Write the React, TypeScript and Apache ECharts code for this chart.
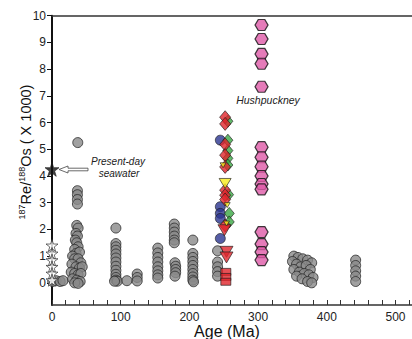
import React, { useEffect, useRef } from "react";
import * as echarts from "echarts";

// ---------- data (age in Ma, 187Re/188Os x1000) ----------
const grayCircles: [number, number][] = [
  [1, 0.05], [6, 0.08], [12, 0.05], [16, 0.08],
  [37.5, 5.25], [37, 3.45], [37, 3.3], [37, 3.12], [37, 2.95],
  [36, 2.15], [38, 2.05], [35, 1.85], [37, 1.75], [34, 1.6], [36, 1.5], [38, 1.35],
  [33, 1.25], [35, 1.1], [40, 1.15], [30, 1.0], [33, 0.9], [38, 0.9], [42, 0.75],
  [29, 0.7], [35, 0.6], [40, 0.55], [44, 0.6], [28, 0.4], [33, 0.35], [38, 0.3],
  [42, 0.35], [30, 0.15], [36, 0.1], [41, 0.05], [33, 0.0], [38, -0.02],
  [93, 2.05], [93, 1.47], [93, 1.35], [93, 1.22], [93, 1.08], [93, 0.93], [93, 0.78],
  [93, 0.62], [93, 0.47], [93, 0.32], [93, 0.2], [93, 0.1], [95, 0.06], [91, 0.06],
  [109, 0.08], [124, 0.33], [124, 0.2], [124, 0.07],
  [154, 1.3], [154, 1.12], [154, 0.95], [154, 0.78], [154, 0.6], [154, 0.45], [154, 0.3], [154, 0.18],
  [178, 2.2], [178, 2.05], [178, 1.9], [178, 1.75], [178, 1.6], [178, 1.5],
  [179, 0.75], [180, 0.62], [180, 0.5], [180, 0.38], [179, 0.25],
  [205, 1.6], [205, 1.1], [205, 0.95], [205, 0.8], [205, 0.65], [205, 0.5], [205, 0.35],
  [205, 0.22], [205, 0.1], [206, 0.04],
  [241, 1.2], [241, 0.78], [241, 0.6], [241, 0.42], [241, 0.25],
  [352, 1.0], [358, 0.95], [365, 0.9], [372, 0.85], [378, 0.75], [350, 0.8], [356, 0.7],
  [362, 0.6], [370, 0.65], [376, 0.5], [352, 0.5], [360, 0.4], [367, 0.35], [374, 0.3],
  [380, 0.2], [356, 0.25], [364, 0.15], [372, 0.05], [378, 0.0],
  [442, 0.85], [442, 0.65], [442, 0.45], [442, 0.25], [442, 0.05],
];
const whiteStars: [number, number][] = [
  [0, 1.4], [0, 1.1], [0, 0.85], [0, 0.6], [0, 0.35], [0, 0.1],
];
const seawater: [number, number][] = [[0, 4.25]];
const redDiamonds: [number, number][] = [
  [252, 6.2], [252, 5.95], [252, 5.18], [252, 4.78], [252, 4.34], [252, 3.47],
  [252, 3.28], [252, 3.12], [252, 2.15],
];
const greenDiamonds: [number, number][] = [
  [256, 6.05], [256, 5.34], [256, 4.95], [256, 4.66], [256, 4.41], [257, 3.3],
  [258, 2.6], [258, 2.28],
];
const blueCircles: [number, number][] = [
  [245, 5.34], [245, 2.85], [245, 2.6], [245, 2.41], [245, 1.66],
];
const yellowBig: [number, number][] = [[252, 3.72]];
const yellowSmall: [number, number][] = [[249, 4.4], [255, 2.91], [254, 2.22]];
const redTriangles: [number, number][] = [[251, 1.97], [254, 1.16], [254, 0.95]];
const redSquares: [number, number][] = [[253, 0.41], [253, 0.22], [253, 0.04]];
const hushpuckney: [number, number][] = [
  [305, 9.65], [305, 9.13], [305, 8.57], [305, 8.2], [305, 7.34],
  [305, 5.08], [305, 4.7], [305, 4.35], [305, 4.0], [305, 3.7], [305, 3.5],
  [305, 1.9], [305, 1.45], [305, 1.15], [305, 0.85],
];
const yTicks = [0, 1, 2, 3, 4, 5, 6, 7, 8, 9, 10];
const xLabels = [0, 100, 200, 300, 400, 500];
const xMinorTicks = [0, 20, 40, 60, 80, 100, 120, 140, 160, 180, 200, 220, 240, 260, 280, 300, 320, 340, 360, 380, 400, 420, 440, 460, 480, 500, 520];

const STAR = "path://M50,0 L61,35 L98,35 L68,57 L79,91 L50,70 L21,91 L32,57 L2,35 L39,35 Z";
const HEX = "path://M25,0 L75,0 L100,43 L75,86 L25,86 L0,43 Z";
const TRI_DOWN = "path://M0,0 L100,0 L50,87 Z";
const FONT = "Liberation Sans";

export default function App() {
  const ref = useRef<HTMLDivElement>(null);
  useEffect(() => {
    if (!ref.current) return;
    const chart = echarts.init(ref.current, null, { renderer: "svg" });
    const edge = { borderColor: "#1a1a1a", borderWidth: 0.8 };
    const sc = (name: string, data: [number, number][], symbol: string, size: any, color: string, z = 2, extra: any = {}) => ({
      name,
      type: "scatter",
      data,
      symbol,
      symbolSize: size,
      z,
      itemStyle: { color, ...edge, ...extra },
      emphasis: { disabled: true },
    });
    chart.setOption({
      animation: false,
      grid: { left: 52, right: 0, top: 15.7, bottom: 34 },
      xAxis: [
        {
          type: "value",
          min: 0,
          max: 524,
          position: "bottom",
          axisLine: { show: true, onZero: false, lineStyle: { color: "#333", width: 1.5 } },
          axisTick: { show: true, inside: true, length: 5, customValues: xMinorTicks, lineStyle: { color: "#333", width: 1 } },
          axisLabel: { customValues: xLabels, fontSize: 12, color: "#222", margin: 6, fontFamily: FONT },
          splitLine: { show: false },
        },
        {
          type: "value",
          min: 0,
          max: 524,
          position: "top",
          axisLine: { show: true, onZero: false, lineStyle: { color: "#333", width: 1.5 } },
          axisTick: { show: false },
          axisLabel: { show: false },
          splitLine: { show: false },
        },
      ],
      yAxis: {
        type: "value",
        min: -0.83,
        max: 10,
        axisLine: { show: true, onZero: false, lineStyle: { color: "#111", width: 2 } },
        axisTick: { show: true, length: 5, customValues: yTicks, lineStyle: { color: "#111", width: 1 } },
        axisLabel: { customValues: yTicks, fontSize: 12, color: "#222", margin: 6, fontFamily: FONT },
        splitLine: { show: false },
      },
      series: [
        sc("gray", grayCircles, "circle", 10, "#8a8a8a", 2, { borderColor: "#2a2a2a", borderWidth: 1 }),
        sc("stars", whiteStars, STAR, 12, "#ffffff", 3, { borderColor: "#333", borderWidth: 0.9 }),
        sc("seawater", seawater, STAR, 14, "#111111", 3),
        sc("blue", blueCircles, "circle", 10, "#2b3590", 4),
        sc("green", greenDiamonds, "diamond", [10, 12], "#3aa843", 4),
        sc("redDiamonds", redDiamonds, "diamond", [11, 13], "#e0242b", 5),
        sc("yellowBig", yellowBig, TRI_DOWN, [12, 10], "#f7ec1c", 5),
        sc("yellowSmall", yellowSmall, TRI_DOWN, [6, 5], "#f7ec1c", 6),
        sc("redTri", redTriangles, TRI_DOWN, [13, 11], "#e0242b", 5),
        sc("redSq", redSquares, "rect", [10, 7], "#e0242b", 5),
        sc("hush", hushpuckney, HEX, [13, 11], "#de5aa8", 6, { borderColor: "#111", borderWidth: 1.2 }),
      ],
      graphic: [
        {
          type: "text",
          x: 25,
          y: 152,
          rotation: Math.PI / 2,
          style: {
            text: "{sup|187}{main|Re/}{sup|188}{main|Os ( X 1000)}",
            align: "center",
            verticalAlign: "middle",
            fill: "#111",
            rich: {
              sup: { fontSize: 9, fontFamily: FONT, verticalAlign: "top", fill: "#111", lineHeight: 16 },
              main: { fontSize: 14.5, fontFamily: FONT, verticalAlign: "bottom", fill: "#111", lineHeight: 16 },
            },
          },
        },
        {
          type: "text",
          x: 227,
          y: 331,
          style: { text: "Age (Ma)", fontSize: 16, fontFamily: FONT, fill: "#111", align: "center", verticalAlign: "middle" },
        },
        {
          type: "text",
          x: 118,
          y: 161.5,
          style: {
            text: "Present-day",
            fontSize: 10,
            fontStyle: "italic",
            fontFamily: FONT,
            fill: "#222",
            align: "center",
            verticalAlign: "middle",
          },
        },
        {
          type: "text",
          x: 119,
          y: 173,
          style: {
            text: "seawater",
            fontSize: 10,
            fontStyle: "italic",
            fontFamily: FONT,
            fill: "#222",
            align: "center",
            verticalAlign: "middle",
          },
        },
        {
          type: "polygon",
          shape: { points: [[59, 169.5], [68, 166], [68, 168.2], [88, 168.2], [88, 170.8], [68, 170.8], [68, 173]] },
          style: { fill: "#fff", stroke: "#444", lineWidth: 0.8 },
        },
        {
          type: "text",
          x: 268,
          y: 100,
          style: { text: "Hushpuckney", fontSize: 10.5, fontStyle: "italic", fontFamily: FONT, fill: "#222", align: "center", verticalAlign: "middle" },
        },
      ],
    });
    return () => chart.dispose();
  }, []);
  return <div ref={ref} style={{ position: "fixed", left: 0, top: 0, width: 412, height: 339, background: "#fff" }} />;
}
